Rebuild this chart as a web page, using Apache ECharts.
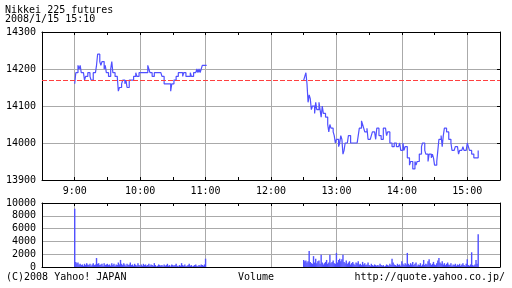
<!DOCTYPE html>
<html>
<head>
<meta charset="utf-8">
<script src="https://cdn.jsdelivr.net/npm/echarts@6/dist/echarts.min.js"></script>
<style>html,body{margin:0;padding:0;background:#fff}#c{width:512px;height:288px}</style>
</head>
<body>
<div id="c"></div>
<script>
// ---- data ----
const titleLine1 = 'Nikkei 225 futures';
const titleLine2 = '2008/1/15 15:10';
const copyrightText = '(C)2008 Yahoo! JAPAN';
const volumeText = 'Volume';
const urlText = 'http://quote.yahoo.co.jp/';
const prevClose = 14170;
const morningStart = 540;   // 9:00 in minutes
const afternoonStart = 750; // 12:30 in minutes
const priceTicks = [13900, 14000, 14100, 14200, 14300];
const volumeTicks = [0, 2000, 4000, 6000, 8000, 10000];
const hourLabels = ['9:00','10:00','11:00','12:00','13:00','14:00','15:00'];

const morningPrices = [
14160,14190,14190,14210,14200,14210,14190,14190,14190,14170,
14180,14180,14190,14190,14180,14170,14170,14190,14190,14190,
14210,14240,14240,14220,14210,14220,14220,14200,14210,14190,
14190,14180,14180,14200,14220,14190,14190,14180,14180,14180,
14140,14150,14150,14160,14170,14170,14160,14170,14150,14150,
14170,14170,14170,14170,14180,14180,14190,14180,14180,14190,
14190,14190,14190,14190,14190,14190,14190,14210,14200,14190,
14190,14180,14180,14190,14190,14190,14190,14190,14190,14190,
14180,14180,14160,14160,14160,14160,14160,14160,14140,14160,
14160,14170,14170,14180,14180,14190,14190,14190,14190,14180,
14190,14190,14180,14180,14180,14180,14190,14180,14180,14190,
14190,14190,14200,14190,14200,14190,14200,14210,14210,14210,
14210];

const afternoonPrices = [
14170,14180,14190,14160,14110,14130,14120,14090,14100,14100,
14080,14110,14090,14090,14110,14090,14070,14100,14080,14080,
14070,14070,14050,14030,14050,14040,14040,14030,14020,14000,
14010,14010,13990,14000,14020,14010,13970,13980,14000,14000,
14000,14020,14020,14000,14000,14000,14000,14000,14000,14000,
14020,14040,14040,14060,14050,14040,14030,14030,14040,14010,
14010,14010,14020,14030,14030,14030,14010,14040,14040,14020,
14020,14010,14010,14040,14040,14040,14020,14030,14030,14000,
14000,13990,13990,14000,14000,13990,13990,13990,14000,13980,
13980,14000,13980,13990,13990,13960,13960,13940,13950,13950,
13930,13930,13950,13940,13950,13950,13970,13970,13990,14000,
14000,13980,13970,13970,13950,13970,13970,13960,13970,13960,
13940,13940,13950,13980,14010,14010,14020,13990,14020,14040,
14040,14030,14030,14010,14010,14000,13980,13980,13980,13990,
13990,13990,13970,13980,13980,13980,13990,13980,13980,13980,
14000,13990,13980,13980,13970,13970,13960,13960,13960,13960,
13980];

const morningVolumes = [
9100,800,600,700,400,500,300,400,200,500,
300,600,400,300,500,200,400,600,300,400,
1400,500,600,300,400,500,200,600,300,400,
500,300,400,200,600,300,500,200,400,300,
700,400,1100,500,300,600,400,200,500,300,
400,700,300,400,200,500,300,200,600,300,
100,400,200,500,300,400,200,300,500,200,
400,300,200,600,300,100,200,400,300,200,
300,100,400,200,300,500,200,300,100,400,
300,200,300,500,200,100,300,200,600,300,
200,400,100,200,300,500,200,300,100,200,
300,400,200,100,300,200,400,300,200,400,
1300];

const afternoonVolumes = [
1100,900,1000,700,900,2500,800,600,500,1700,
700,1300,600,900,1000,500,1900,700,400,600,
800,1100,500,700,1900,600,800,1000,600,500,
2200,700,1100,1300,900,1200,1900,800,600,1000,
500,700,900,400,600,800,500,300,700,600,
900,400,500,300,800,400,600,300,400,700,
300,200,500,300,200,400,300,200,300,200,
500,300,200,300,100,200,400,300,200,500,
300,1300,700,400,300,200,500,300,400,200,
900,500,300,600,400,2200,500,300,600,400,
800,300,500,700,200,400,300,600,200,400,
1100,300,500,400,900,1200,600,300,500,800,
400,300,600,1000,1400,700,500,900,400,600,
300,500,700,400,300,600,200,400,300,500,
200,400,300,500,200,400,600,300,200,500,
1200,300,200,400,2300,300,200,400,1100,500,
5100];

// ---- build series data ----
const priceData = [];
morningPrices.forEach((v, i) => priceData.push([morningStart + i, v]));
priceData.push([morningStart + morningPrices.length, null]);
afternoonPrices.forEach((v, i) => priceData.push([afternoonStart + i, v]));
const volumeData = [];
morningVolumes.forEach((v, i) => volumeData.push([morningStart + i, v]));
afternoonVolumes.forEach((v, i) => volumeData.push([afternoonStart + i, v]));

const FONT = 'DejaVu Sans Mono';
const GRID_COLOR = '#aaaaaa';
const LINE_COLOR = '#5050ff';
const X_MIN = 510, X_MAX = 930;

function fmtTime(v) {
  if (v % 60 !== 0) return '';
  const s = (v / 60) + ':00';
  return hourLabels.indexOf(s) >= 0 ? s : '';
}
function fmtNum(v) { return String(v); }

function xAx(gridIndex, position, opts) {
  return Object.assign({
    type: 'value', gridIndex, position, min: X_MIN, max: X_MAX, interval: 30,
    axisLine: { show: true, onZero: false, lineStyle: { color: '#000', width: 1 } },
    axisTick: { show: true, inside: true, length: 3, lineStyle: { color: '#000' } },
    axisLabel: { show: false },
    splitLine: { show: false }
  }, opts);
}
function yAx(gridIndex, position, ticks, interval, opts) {
  return Object.assign({
    type: 'value', gridIndex, position, min: ticks[0], max: ticks[ticks.length - 1], interval,
    axisLine: { show: true, lineStyle: { color: '#000' } },
    axisTick: { show: false },
    axisLabel: { show: false },
    splitLine: { show: false }
  }, opts);
}
const yLabel = { show: true, formatter: fmtNum, fontFamily: FONT, fontSize: 10, color: '#000', margin: 6, showMinLabel: true, showMaxLabel: true };

const chart = echarts.init(document.getElementById('c'), null, { renderer: 'canvas' });
chart.setOption({
  animation: false,
  backgroundColor: '#ffffff',
  textStyle: { fontFamily: FONT },
  grid: [
    { left: 42, top: 32, width: 458, height: 148, containLabel: false, outerBoundsMode: 'none' },
    { left: 42, top: 203, width: 458, height: 64, containLabel: false, outerBoundsMode: 'none' }
  ],
  xAxis: [
    xAx(0, 'bottom', {
      axisLabel: { show: true, formatter: fmtTime, fontFamily: FONT, fontSize: 10, color: '#000', margin: 6, showMinLabel: true, showMaxLabel: true, hideOverlap: false },
      splitLine: { show: true, lineStyle: { color: ['rgba(0,0,0,0)', GRID_COLOR], width: 1 } }
    }),
    xAx(0, 'top', {}),
    xAx(1, 'bottom', {
      axisTick: { show: false },
      splitLine: { show: true, lineStyle: { color: ['rgba(0,0,0,0)', GRID_COLOR], width: 1 } }
    }),
    xAx(1, 'top', {})
  ],
  yAxis: [
    yAx(0, 'left', priceTicks, 100, { axisLabel: yLabel, splitLine: { show: true, lineStyle: { color: GRID_COLOR, width: 1 } } }),
    yAx(0, 'right', priceTicks, 100, { axisTick: { show: true, inside: true, length: 3, lineStyle: { color: '#000' } } }),
    yAx(1, 'left', volumeTicks, 2000, { axisLabel: yLabel, splitLine: { show: true, lineStyle: { color: GRID_COLOR, width: 1 } } }),
    yAx(1, 'right', volumeTicks, 2000, {})
  ],
  series: [
    {
      type: 'line', xAxisIndex: 0, yAxisIndex: 0, data: priceData, step: 'end',
      showSymbol: false, symbol: 'none', connectNulls: false,
      lineStyle: { color: LINE_COLOR, width: 1.2 },
      itemStyle: { color: LINE_COLOR },
      markLine: {
        silent: true, symbol: 'none', label: { show: false },
        lineStyle: { color: '#ff4040', type: [5, 2], width: 1 },
        data: [{ yAxis: prevClose }]
      },
      z: 3
    },
    {
      type: 'bar', xAxisIndex: 2, yAxisIndex: 2, data: volumeData,
      barWidth: 1.4, itemStyle: { color: LINE_COLOR }, large: false
    }
  ],
  graphic: [
    { type: 'text', left: 5, top: 5, style: { text: titleLine1, font: '10px "' + FONT + '"', fill: '#000' } },
    { type: 'text', left: 5, top: 14, style: { text: titleLine2, font: '10px "' + FONT + '"', fill: '#000' } },
    { type: 'text', left: 6, top: 272, style: { text: copyrightText, font: '10px "' + FONT + '"', fill: '#000' } },
    { type: 'text', left: 238, top: 272, style: { text: volumeText, font: '10px "' + FONT + '"', fill: '#000' } },
    { type: 'text', right: 7, top: 272, style: { text: urlText, font: '10px "' + FONT + '"', fill: '#000' } }
  ]
});
</script>
</body>
</html>
